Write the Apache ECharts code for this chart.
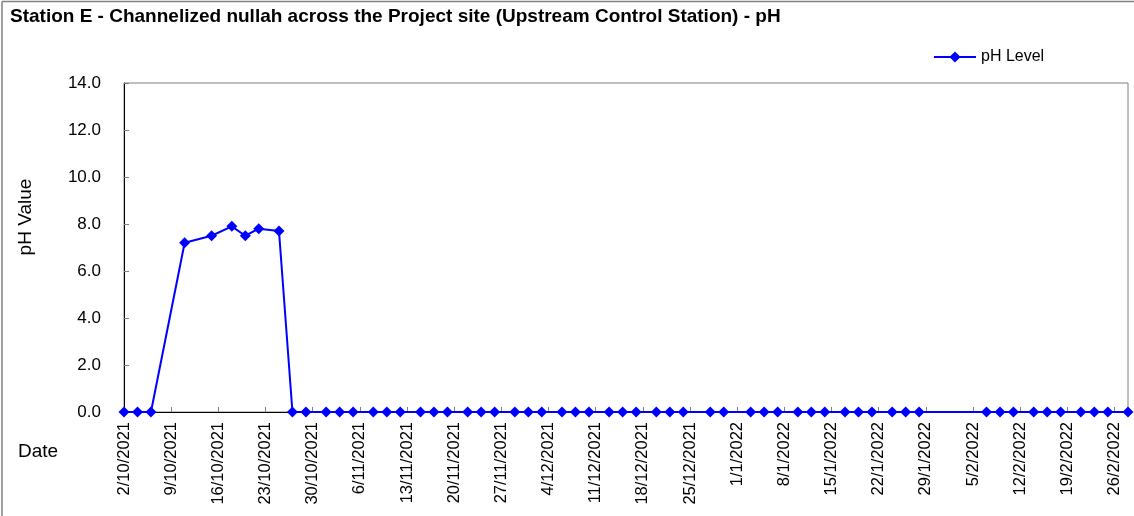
<!DOCTYPE html>
<html>
<head>
<meta charset="utf-8">
<script src="https://cdn.jsdelivr.net/npm/echarts@6/dist/echarts.min.js"></script>
<style>
    html, body { margin: 0; padding: 0; background: #fff; }
    #chart { width: 1134px; height: 516px; }
</style>
</head>
<body>
<div id="chart"></div>
<script>
const titleText = "Station E - Channelized nullah across the Project site (Upstream Control Station) - pH";
const seriesName = "pH Level";
const yAxisTitle = "pH Value";
const xAxisTitle = "Date";

// sampling dates (d/m/yyyy) and pH readings
const sampleDates = [
    "2/10/2021", "4/10/2021", "6/10/2021", "11/10/2021", "15/10/2021", "18/10/2021",
    "20/10/2021", "22/10/2021", "25/10/2021", "27/10/2021", "29/10/2021",
    "1/11/2021", "3/11/2021", "5/11/2021", "8/11/2021", "10/11/2021", "12/11/2021",
    "15/11/2021", "17/11/2021", "19/11/2021", "22/11/2021", "24/11/2021", "26/11/2021",
    "29/11/2021", "1/12/2021", "3/12/2021", "6/12/2021", "8/12/2021", "10/12/2021",
    "13/12/2021", "15/12/2021", "17/12/2021", "20/12/2021", "22/12/2021", "24/12/2021",
    "28/12/2021", "30/12/2021", "3/1/2022", "5/1/2022", "7/1/2022", "10/1/2022",
    "12/1/2022", "14/1/2022", "17/1/2022", "19/1/2022", "21/1/2022", "24/1/2022",
    "26/1/2022", "28/1/2022", "7/2/2022", "9/2/2022", "11/2/2022", "14/2/2022",
    "16/2/2022", "18/2/2022", "21/2/2022", "23/2/2022", "25/2/2022", "28/2/2022"
];
const phValues = [
    0, 0, 0, 7.2, 7.5, 7.9,
    7.5, 7.8, 7.7, 0, 0,
    0, 0, 0, 0, 0, 0,
    0, 0, 0, 0, 0, 0,
    0, 0, 0, 0, 0, 0,
    0, 0, 0, 0, 0, 0,
    0, 0, 0, 0, 0, 0,
    0, 0, 0, 0, 0, 0,
    0, 0, 0, 0, 0, 0,
    0, 0, 0, 0, 0, 0
];

// x axis range and tick step, in days
const axisStart = "2/10/2021";
const axisEnd = "28/2/2022";
const tickDays = 7;
const yTicks = { min: 0, max: 14, step: 2 };

const DAY = 86400000;
function parseDmy(s) {
    const [d, m, y] = s.split("/").map((x) => parseInt(x));
    return Date.UTC(y, m - 1, d);
}
const t0 = parseDmy(axisStart);
function dayIndex(s) {
    return Math.round((parseDmy(s) - t0) / DAY);
}
function dayLabel(n) {
    const d = new Date(t0 + n * DAY);
    return d.getUTCDate() + "/" + (d.getUTCMonth() + 1) + "/" + d.getUTCFullYear();
}

const font = "'Liberation Sans', Arial, sans-serif";
const points = sampleDates.map((s, i) => [dayIndex(s), phValues[i]]);

const chart = echarts.init(document.getElementById("chart"));
chart.setOption({
    animation: false,
    backgroundColor: "#fff",
    title: {
        text: titleText,
        left: 5,
        top: 2,
        textStyle: { fontFamily: font, fontSize: 19, fontWeight: "bold", color: "#000" }
    },
    legend: {
        left: 928,
        top: 44,
        itemWidth: 42,
        itemHeight: 14,
        itemGap: 5,
        textStyle: { fontFamily: font, fontSize: 16, color: "#000" },
        data: [seriesName]
    },
    grid: {
        left: 124,
        right: 6,
        top: 83,
        bottom: 104,
        show: true,
        borderColor: "#808080",
        borderWidth: 1
    },
    xAxis: {
        type: "value",
        min: 0,
        max: dayIndex(axisEnd),
        interval: tickDays,
        splitLine: { show: false },
        axisLine: { onZero: false, lineStyle: { color: "#000", width: 1 } },
        axisTick: { inside: true, length: 5, lineStyle: { color: "#808080" } },
        axisLabel: {
            rotate: 90,
            margin: 10,
            fontFamily: font,
            fontSize: 16.5,
            color: "#000",
            showMaxLabel: false,
            formatter: (v) => dayLabel(v)
        }
    },
    yAxis: {
        type: "value",
        min: yTicks.min,
        max: yTicks.max,
        interval: yTicks.step,
        splitLine: { show: false },
        axisLine: { show: true, lineStyle: { color: "#000", width: 1 } },
        axisTick: { show: true, inside: true, length: 5, lineStyle: { color: "#808080" } },
        axisLabel: {
            margin: 23,
            fontFamily: font,
            fontSize: 17,
            color: "#000",
            formatter: (v) => v.toFixed(1)
        }
    },
    graphic: [
        {
            type: "text",
            x: 26,
            y: 217,
            rotation: Math.PI / 2,
            style: {
                text: yAxisTitle,
                font: "19px " + font,
                fill: "#000",
                align: "center",
                verticalAlign: "middle"
            }
        },
        {
            type: "text",
            x: 18,
            y: 452,
            style: {
                text: xAxisTitle,
                font: "19px " + font,
                fill: "#000",
                verticalAlign: "middle"
            }
        },
        {
            type: "line",
            shape: { x1: 2, y1: 1.5, x2: 1134, y2: 1.5 },
            style: { stroke: "#808080", lineWidth: 1.5 }
        },
        {
            type: "line",
            shape: { x1: 2, y1: 1.5, x2: 2, y2: 516 },
            style: { stroke: "#808080", lineWidth: 1.5 }
        }
    ],
    series: [
        {
            name: seriesName,
            type: "line",
            data: points,
            symbol: "diamond",
            symbolSize: 11,
            clip: false,
            lineStyle: { color: "#0000ff", width: 2 },
            itemStyle: { color: "#0000ff" }
        }
    ]
});
</script>
</body>
</html>
